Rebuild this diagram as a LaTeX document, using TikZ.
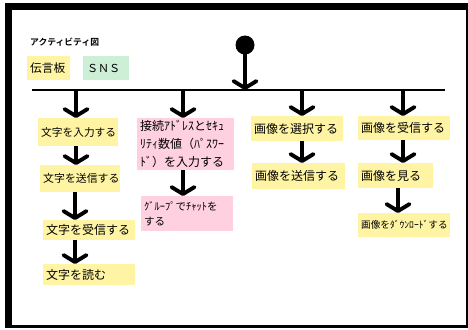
\documentclass[tikz,border=0pt]{standalone}
\usepackage{fontspec}
\setmainfont{Noto Sans CJK JP}
\newfontfamily\jpbold{Noto Sans CJK JP Bold}
\usetikzlibrary{arrows.meta,calc}
\definecolor{boxyellow}{HTML}{FFF4A3}
\definecolor{boxpink}{HTML}{FFD0E0}
\definecolor{boxgreen}{HTML}{CCEFD5}
\tikzset{
  box/.style={rectangle, anchor=north west, inner xsep=3pt, inner ysep=0pt, align=left},
  ybox/.style={box, fill=boxyellow},
  pbox/.style={box, fill=boxpink},
  gbox/.style={box, fill=boxgreen},
  flow/.style={line width=3.9pt, -{Straight Barb[length=7pt,width=23pt,round]}},
}
\newcommand{\fs}[2]{\fontsize{#1}{#2}\selectfont}
\begin{document}
\begin{tikzpicture}[x=1pt,y=-1pt]
\useasboundingbox (0,0) rectangle (468,329);
% frame
\fill[black] (5,3) rectangle (468,328);
\fill[white] (12,10) rectangle (466,325);

% title and legend
\node[anchor=west, inner sep=0pt, font=\jpbold\fs{8.8}{10}] (title) at (30,42) {アクティビティ図};
\node[ybox, minimum width=43pt, minimum height=24pt, text width=37pt, font=\fs{11.7}{14}] (legy) at (27,56) {伝言板};
\node[gbox, minimum width=44pt, minimum height=24pt, text width=38pt, font=\fs{11}{14}, inner xsep=4pt] (legg) at (83,56) {ＳＮＳ};

% initial node and bar
\fill (245,45) circle (9.5pt);
\coordinate (init) at (245,45);
\coordinate (barL) at (32,90);
\coordinate (barR) at (445,90);
\draw[line width=1.4pt] (barL) -- (barR);
\coordinate (barM) at (245,90);
\draw[flow] (init) -- (barM);

% column 1
\node[ybox, minimum width=80pt, minimum height=28pt, text width=74pt, font=\fs{10.7}{13}] (c1a) at (38,118) {文字を入力する};
\node[ybox, minimum width=80pt, minimum height=27pt, text width=74pt, font=\fs{10.9}{13}] (c1b) at (40,165) {文字を送信する};
\node[ybox, minimum width=92pt, minimum height=20pt, text width=86pt, font=\fs{12}{14}] (c1c) at (43,220) {文字を受信する};
\node[ybox, minimum width=92pt, minimum height=21pt, text width=86pt, font=\fs{12}{14}] (c1d) at (43,264) {文字を読む};

% column 2
\node[pbox, minimum width=97pt, minimum height=52pt, text width=91pt, font=\fs{12}{18}] (c2a) at (137,118) {接続ｱﾄﾞﾚｽとｾｷｭ\\ﾘﾃｨ数値（ﾊﾟｽﾜｰ\\ﾄﾞ）を入力する};
\node[pbox, minimum width=92pt, minimum height=35pt, text width=86pt, font=\fs{10.5}{15}] (c2b) at (141,196) {ｸﾞﾙｰﾌﾟでﾁｬｯﾄを\\する};

% column 3
\node[ybox, minimum width=92pt, minimum height=25pt, text width=86pt, font=\fs{12}{14}] (c3a) at (251,116) {画像を選択する};
\node[ybox, minimum width=93pt, minimum height=26pt, text width=87pt, font=\fs{12}{14}] (c3b) at (252,163) {画像を送信する};

% column 4
\node[ybox, minimum width=92pt, minimum height=24pt, text width=86pt, font=\fs{12}{14}] (c4a) at (358,116) {画像を受信する};
\node[ybox, minimum width=75pt, minimum height=25pt, text width=69pt, font=\fs{12}{14}] (c4b) at (358,163) {画像を見る};
\node[ybox, minimum width=92pt, minimum height=24pt, text width=86pt, font=\fs{9.6}{12}] (c4c) at (358,213) {画像をﾀﾞｳﾝﾛｰﾄﾞする};

% arrow columns
\coordinate (x1) at (76,0);
\coordinate (x1b) at (75,0);
\coordinate (x2) at (183,0);
\coordinate (x3) at (302,0);
\coordinate (x4) at (403,0);
\coordinate (x4b) at (398,0);

\draw[flow] (barL -| x1) -- (c1a.north -| x1);
\draw[flow] (c1a.south -| x1) -- (c1b.north -| x1);
\draw[flow] (c1b.south -| x1b) -- (c1c.north -| x1b);
\draw[flow] (c1c.south -| x1b) -- (c1d.north -| x1b);

\draw[flow] (barL -| x2) -- (c2a.north -| x2);
\draw[flow] (c2a.south -| x2) -- (c2b.north -| x2);

\draw[flow] (barL -| x3) -- (c3a.north -| x3);
\draw[flow] (c3a.south -| x3) -- (c3b.north -| x3);

\draw[flow] (barL -| x4) -- (c4a.north -| x4);
\draw[flow] (c4a.south -| x4) -- (c4b.north -| x4);
\draw[flow] (c4b.south -| x4b) -- (c4c.north -| x4b);
\end{tikzpicture}
\end{document}
